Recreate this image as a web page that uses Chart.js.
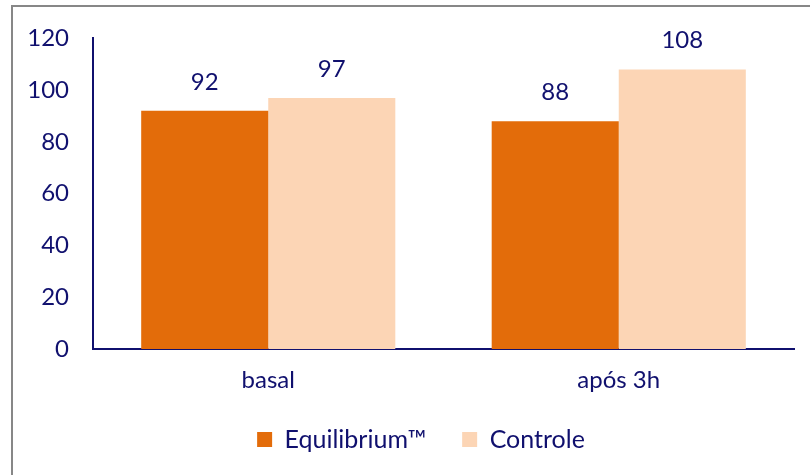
<!DOCTYPE html>
<html>
<head>
<meta charset="utf-8">
<script src="https://cdn.jsdelivr.net/npm/chart.js@4"></script>
<style>
html,body{margin:0;padding:0;background:#fff;overflow:hidden;}
#wrap{position:relative;width:810px;height:475px;}
canvas{display:block;}
</style>
</head>
<body>
<div id="wrap"><canvas id="c" width="810" height="475"></canvas></div>
<script>
const categories = ['basal', 'após 3h'];
const equilibrium = [92, 88];
const controle = [97, 108];
const seriesNames = ['Equilibrium™', 'Controle'];
const yTicks = [0, 20, 40, 60, 80, 100, 120];

const NAVY = '#10106E';
const FONT = 'Lato, "Open Sans", sans-serif';

function placeLegend(chart) {
  const lg = chart.legend;
  if (!lg) return;
  const h = lg.height;
  lg.left = 48;
  lg.right = 794;
  lg.top = 391;
  lg.bottom = lg.top + h;
  if (lg.adjustHitBoxes) lg.adjustHitBoxes();
}

const frame = {
  id: 'frame',
  afterUpdate(chart) { placeLegend(chart); },
  beforeDraw(chart) {
    placeLegend(chart);
    const ctx = chart.ctx;
    ctx.save();
    ctx.fillStyle = '#fff';
    ctx.fillRect(0, 0, chart.width, chart.height);
    ctx.strokeStyle = '#878787';
    ctx.lineWidth = 2;
    ctx.strokeRect(12, 6, chart.width + 20, chart.height + 20);
    ctx.restore();
  }
};

const valueLabels = {
  id: 'valueLabels',
  afterDatasetsDraw(chart) {
    const ctx = chart.ctx;
    ctx.save();
    ctx.fillStyle = NAVY;
    ctx.font = '24px ' + FONT;
    ctx.textAlign = 'center';
    ctx.textBaseline = 'alphabetic';
    chart.data.datasets.forEach((ds, i) => {
      chart.getDatasetMeta(i).data.forEach((bar, j) => {
        ctx.fillText(String(ds.data[j]), bar.x, bar.y - 21);
      });
    });
    ctx.restore();
  }
};

new Chart(document.getElementById('c'), {
  type: 'bar',
  data: {
    labels: categories,
    datasets: [
      { label: seriesNames[0], data: equilibrium, backgroundColor: '#E36C0A', borderWidth: 0 },
      { label: seriesNames[1], data: controle, backgroundColor: '#FCD5B5', borderWidth: 0 }
    ]
  },
  options: {
    responsive: false,
    animation: false,
    devicePixelRatio: 1,
    layout: { padding: { left: 0, right: 16, top: 24, bottom: 0 } },
    datasets: { bar: { barPercentage: 1, categoryPercentage: 0.725 } },
    plugins: {
      legend: {
        position: 'bottom',
        labels: {
          color: NAVY,
          font: { size: 25, family: FONT },
          boxWidth: 15,
          boxHeight: 15,
          padding: 36
        }
      },
      tooltip: { enabled: false }
    },
    scales: {
      x: {
        afterFit(scale) { scale.height = 55; },
        grid: { display: false, drawTicks: false },
        border: { display: true, color: NAVY, width: 2 },
        ticks: { color: NAVY, font: { size: 24, family: FONT }, padding: 17 }
      },
      y: {
        min: 0, max: 120,
        afterFit(scale) { scale.width = 93; },
        afterBuildTicks(scale) { scale.ticks = yTicks.map(v => ({ value: v })); },
        grid: { display: false, drawTicks: false },
        border: { display: true, color: NAVY, width: 2 },
        ticks: { color: NAVY, font: { size: 24, family: FONT }, padding: 24 }
      }
    }
  },
  plugins: [frame, valueLabels]
});
</script>
</body>
</html>
